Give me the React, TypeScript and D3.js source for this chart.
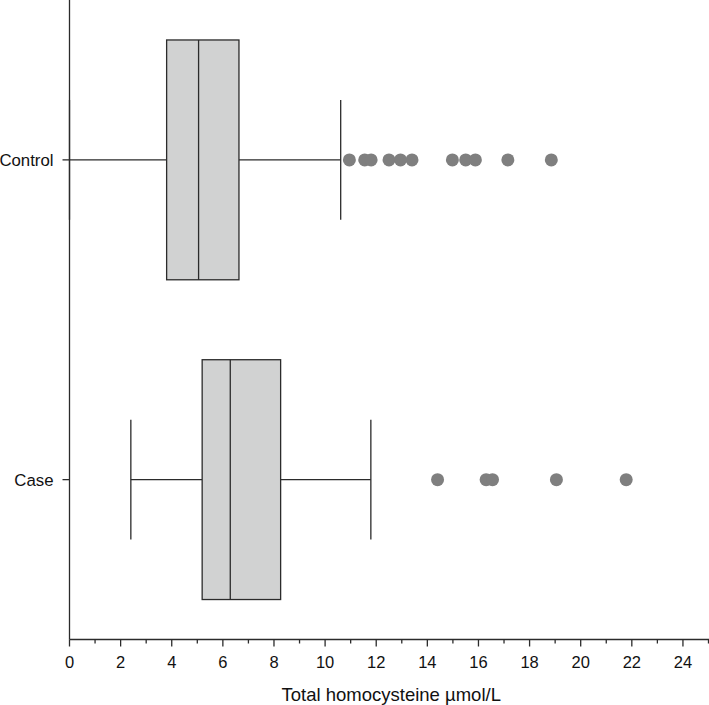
import React from "react";
import * as d3 from "d3";

const categories = ["Control", "Case"];
const whiskerLow = [0, 2.4];
const q1 = [3.8, 5.19];
const median = [5.05, 6.29];
const q3 = [6.63, 8.26];
const whiskerHigh = [10.61, 11.79];
const outliersControl = [10.95, 11.55, 11.8, 12.5, 12.95, 13.4, 14.98, 15.5, 15.88, 17.15, 18.85];
const outliersCase = [14.4, 16.3, 16.55, 19.05, 21.78];
const outliers = [outliersControl, outliersCase];
const xTicks = [0, 2, 4, 6, 8, 10, 12, 14, 16, 18, 20, 22, 24];
const xMinorTicks = [1, 3, 5, 7, 9, 11, 13, 15, 17, 19, 21, 23, 25];
const xTitle = "Total homocysteine µmol/L";

const W = 709;
const H = 705;
const FONT = "'Liberation Sans', Arial, Helvetica, sans-serif";
const STROKE = "#2b2b2b";

export default function App() {
  const x = d3.scaleLinear().domain([0, 25]).range([69.5, 708.5]);
  const y = d3.scaleBand<string>().domain(categories).range([0, 639.5]).padding(0);
  const bw = y.bandwidth();
  const boxH = bw * 0.75;
  const capH = bw * 0.375;
  const axisY = 639.5;
  const axisX = x(0);

  return (
    <svg
      width={W}
      height={H}
      style={{ position: "absolute", left: 0, top: 0, background: "#fff" }}
      fontFamily={FONT}
    >
      {categories.map((c, i) => {
        const cy = (y(c) as number) + bw / 2;
        return (
          <g key={c}>
            <line x1={x(whiskerLow[i])} x2={x(q1[i])} y1={cy} y2={cy} stroke={STROKE} strokeWidth={1.3} />
            <line x1={x(q3[i])} x2={x(whiskerHigh[i])} y1={cy} y2={cy} stroke={STROKE} strokeWidth={1.3} />
            <line x1={x(whiskerLow[i])} x2={x(whiskerLow[i])} y1={cy - capH / 2} y2={cy + capH / 2} stroke={STROKE} strokeWidth={1.3} />
            <line x1={x(whiskerHigh[i])} x2={x(whiskerHigh[i])} y1={cy - capH / 2} y2={cy + capH / 2} stroke={STROKE} strokeWidth={1.3} />
            <rect
              x={x(q1[i])}
              y={cy - boxH / 2}
              width={x(q3[i]) - x(q1[i])}
              height={boxH}
              fill="#d1d2d2"
              stroke={STROKE}
              strokeWidth={1.3}
            />
            <line x1={x(median[i])} x2={x(median[i])} y1={cy - boxH / 2} y2={cy + boxH / 2} stroke={STROKE} strokeWidth={1.3} />
            {outliers[i].map((v, j) => (
              <circle key={j} cx={x(v)} cy={cy} r={6.5} fill="#7f7f7f" />
            ))}
            <line x1={axisX - 7} x2={axisX} y1={cy} y2={cy} stroke={STROKE} strokeWidth={1.3} />
            <text x={53.5} y={cy + 6} fontSize={16.8} textAnchor="end" fill="#111">
              {c}
            </text>
          </g>
        );
      })}

      <line x1={axisX} x2={axisX} y1={0} y2={axisY} stroke={STROKE} strokeWidth={1.3} />
      <line x1={axisX} x2={W} y1={axisY} y2={axisY} stroke={STROKE} strokeWidth={1.3} />
      {xTicks.map((t) => (
        <g key={"t" + t}>
          <line x1={x(t)} x2={x(t)} y1={axisY} y2={axisY + 7} stroke={STROKE} strokeWidth={1.3} />
          <text x={x(t)} y={667.5} fontSize={16.5} textAnchor="middle" fill="#111">
            {t}
          </text>
        </g>
      ))}
      {xMinorTicks.map((t) => (
        <line key={"m" + t} x1={x(t)} x2={x(t)} y1={axisY} y2={axisY + 4} stroke={STROKE} strokeWidth={1.3} />
      ))}
      <text x={(axisX + W) / 2 + 2} y={701} fontSize={18.5} textAnchor="middle" fill="#111">
        {xTitle}
      </text>
    </svg>
  );
}
